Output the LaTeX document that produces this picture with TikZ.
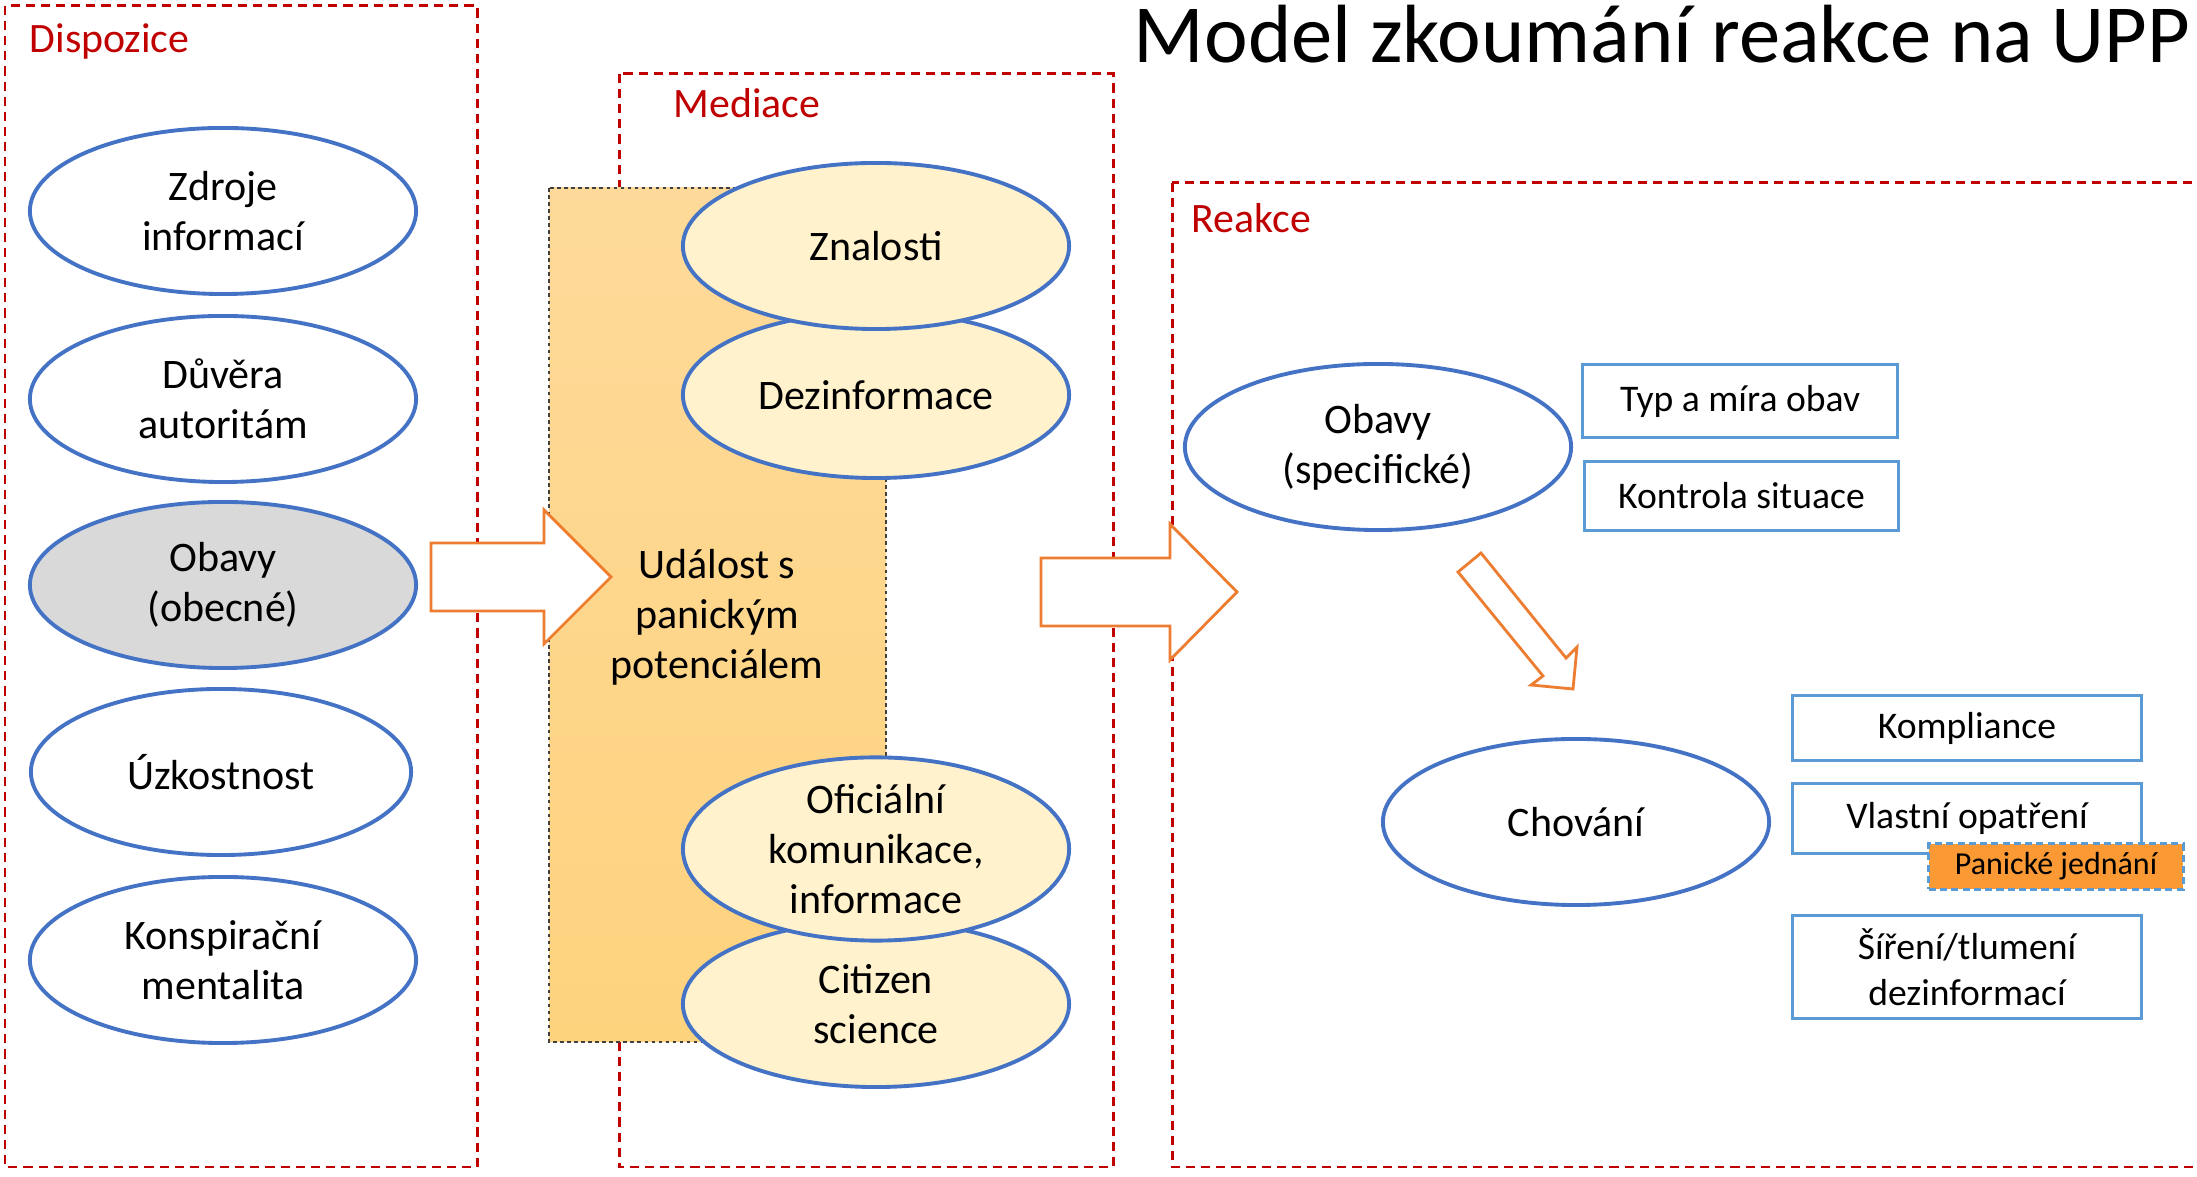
\documentclass[tikz,border=0pt]{standalone}
\usepackage{fontspec}
\setmainfont{Carlito}
\usetikzlibrary{shapes.geometric}
\definecolor{grpred}{HTML}{C00000}
\definecolor{ellblue}{HTML}{4472C4}
\definecolor{boxblue}{HTML}{5B9BD5}
\definecolor{ellyellow}{HTML}{FFF2CC}
\definecolor{ellgray}{HTML}{D9D9D9}
\definecolor{arrorange}{HTML}{ED7D31}
\definecolor{panicorange}{HTML}{FB9A34}
\definecolor{recttop}{HTML}{FEDA9A}
\definecolor{rectbot}{HTML}{FED37E}
\begin{document}
\begin{tikzpicture}[x=0.01cm,y=-0.01cm,
  groupbox/.style={draw=grpred, line width=0.85pt, dash pattern=on 2.6pt off 1.7pt},
  grouplabel/.style={text=grpred, font=\fontsize{11.9}{14.2}\selectfont, anchor=base west, inner sep=0},
  oval/.style={ellipse, draw=ellblue, line width=1.1pt, fill=white, minimum width=3.86cm, minimum height=1.66cm, inner sep=0, align=center, font=\fontsize{11.95}{14.23}\selectfont},
  medoval/.style={oval, fill=ellyellow},
  grayoval/.style={oval, fill=ellgray},
  rbox/.style={draw=boxblue, line width=0.85pt, fill=white, inner sep=0, align=center, font=\fontsize{10.7}{13.1}\selectfont},
  panicbox/.style={rbox, fill=panicorange, dash pattern=on 2pt off 1.2pt, font=\fontsize{9.1}{10.9}\selectfont},
  fatarrow/.style={draw=arrorange, fill=white, line width=0.8pt, line join=miter},
  eventtext/.style={align=center, inner sep=0, font=\fontsize{11.95}{14.23}\selectfont}
]
\useasboundingbox (0,0) rectangle (2197,1177);
\fill[white] (0,0) rectangle (2197,1177);

% group frames
\draw[groupbox] (5,6) rectangle (477,1167);
\draw[groupbox] (619,74) rectangle (1113,1167);
\draw[groupbox] (1172,183) rectangle (2210,1167);
\node[grouplabel] (lDisp) at (29,53) {Dispozice};
\node[grouplabel] (lMed) at (673,118) {Mediace};
\node[grouplabel] (lReak) at (1191,233) {Reakce};

% event rectangle
\fill[top color=recttop, bottom color=rectbot] (549,188) rectangle (886,1042);
\draw[draw=black!75, line width=0.4pt, dash pattern=on 1pt off 1pt] (549,188) rectangle (886,1042);

% Dispozice ellipses
\node[oval] (zdroje) at (223,211) {Zdroje\\informací};
\node[oval] (duvera) at (223,399) {Důvěra\\autoritám};
\node[grayoval] (obavyo) at (223,585) {Obavy\\(obecné)};
\node[oval, minimum width=3.8cm] (uzkost) at (221,772) {Úzkostnost};
\node[oval] (konsp) at (223,960) {Konspirační\\mentalita};

% Mediace ellipses
\node[medoval] (dezinf) at (876,395) {Dezinformace};
\node[medoval] (znal) at (876,246) {Znalosti};
\node[medoval] (citizen) at (876,1004) {Citizen\\science};
\node[medoval, minimum height=1.72cm] (ofic) at (876,849) {Oficiální\\komunikace,\\informace};

\node[eventtext] (event) at (717,617) {Událost s\\panickým\\potenciálem};

% Reakce ellipses
\node[oval] (obavys) at (1378,447) {Obavy\\(specifické)};
\node[oval] (chovani) at (1576,822) {Chování};

% block arrows
\draw[fatarrow] (431,543) -- (544,543) -- (544,510) -- (611,577) -- (544,644) -- (544,611) -- (431,611) -- cycle;
\draw[fatarrow] (1041,558) -- (1170,558) -- (1170,524) -- (1237,592) -- (1170,660) -- (1170,626) -- (1041,626) -- cycle;
\draw[fatarrow] (1458,572) -- (1543,676) -- (1531,685) -- (1573,689) -- (1577,647) -- (1566,658) -- (1481,553) -- cycle;

% boxes
\node[rbox, minimum width=3.14cm, minimum height=0.72cm] (typ) at (1740,401) {Typ a míra obav};
\node[rbox, minimum width=3.13cm, minimum height=0.68cm] (kontrola) at (1741.5,496) {Kontrola situace};
\node[rbox, minimum width=3.48cm, minimum height=0.64cm] (kompl) at (1967,728) {Kompliance};
\node[rbox, minimum width=3.48cm, minimum height=0.69cm] (vlastni) at (1967,818.5) {Vlastní opatření};
\node[panicbox, minimum width=2.54cm, minimum height=0.45cm] (panic) at (2056,866.5) {Panické jednání};
\node[rbox, minimum width=3.48cm, minimum height=1.02cm] (sireni) at (1967,967) {Šíření/tlumení\\dezinformací};

% title
\node[anchor=base east, inner sep=0, font=\fontsize{23.5}{28}\selectfont] (title) at (2191,63) {Model zkoumání reakce na UPP};
\end{tikzpicture}
\end{document}
